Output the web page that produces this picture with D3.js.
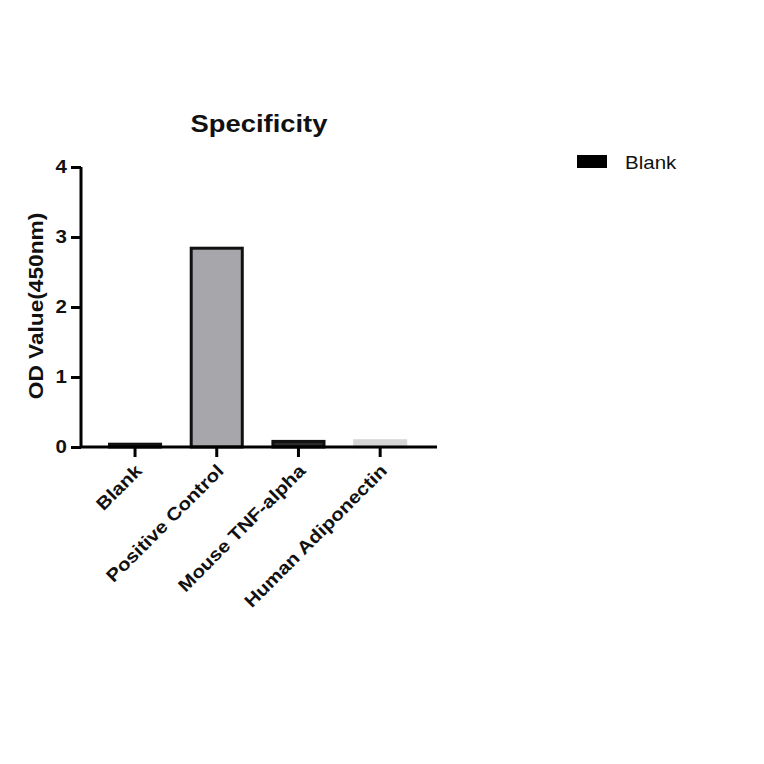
<!DOCTYPE html>
<html>
<head>
<meta charset="utf-8">
<script src="https://cdn.jsdelivr.net/npm/d3@7"></script>
<style>
  body { margin: 0; background: #fff; }
  text { font-family: "Liberation Sans", Arial, sans-serif; }
</style>
</head>
<body>
<div id="chart-area"></div>
<script>
// data
var categories = ["Blank", "Positive Control", "Mouse TNF-alpha", "Human Adiponectin"];
var odValues = [0.04, 2.84, 0.08, 0.09];
var barFills = ["#1a1a1a", "#a7a7ab", "#2b2b2b", "#d6d6d6"];
var barStrokes = ["#111", "#111", "#111", "#d6d6d6"];
var yTicks = [0, 1, 2, 3, 4];
var legendLabels = ["Blank"];

// the original picture is a bit wide, text gets stretched a little
var stretch = 1.14;

var margin = { left: 81, top: 167 };
var width = 356, height = 280;

var svg = d3.select("#chart-area")
  .append("svg")
    .attr("width", 764)
    .attr("height", 764);

var g = svg.append("g")
  .attr("transform", "translate(" + margin.left + "," + margin.top + ")");

// scales
var x = d3.scaleBand()
  .domain(categories)
  .range([28.5, 324.7])
  .paddingInner(0.375)
  .paddingOuter(0);

var y = d3.scaleLinear()
  .domain([0, 4])
  .range([height, 0]);

// bars
g.selectAll("rect.bar")
  .data(categories)
  .enter()
  .append("rect")
    .attr("class", "bar")
    .attr("x", function(d) { return x(d); })
    .attr("y", function(d, i) { return y(odValues[i]); })
    .attr("width", x.bandwidth())
    .attr("height", function(d, i) { return y(0) - y(odValues[i]); })
    .attr("fill", function(d, i) { return barFills[i]; })
    .attr("stroke", function(d, i) { return barStrokes[i]; })
    .attr("stroke-width", 3);

// Y axis
var yAxis = g.append("g")
  .call(d3.axisLeft(y).tickValues(yTicks).tickSize(10).tickPadding(4).tickFormat(d3.format("d")));
yAxis.select(".domain").attr("stroke-width", 3).attr("d", "M0," + height + "V0");
yAxis.selectAll(".tick line").attr("stroke-width", 3);
yAxis.selectAll("text")
  .attr("font-size", "18px")
  .attr("font-weight", "bold")
  .attr("fill", "#111")
  .attr("x", 0)
  .attr("transform", "translate(-14,0) scale(" + stretch + ",1)");

// X axis
var xAxis = g.append("g")
  .attr("transform", "translate(0," + height + ")")
  .call(d3.axisBottom(x).tickSize(10).tickSizeOuter(0));
xAxis.select(".domain").attr("stroke-width", 3).attr("d", "M0,0H" + width);
xAxis.selectAll(".tick line").attr("stroke-width", 3);
xAxis.selectAll("text")
  .attr("font-size", "18px")
  .attr("font-weight", "bold")
  .attr("fill", "#111")
  .attr("text-anchor", "end")
  .attr("y", 0)
  .attr("dy", "0")
  .attr("transform", "translate(8,25) rotate(-45) scale(" + stretch + ",1)");

// title
svg.append("text")
  .attr("transform", "translate(259,132) scale(" + stretch + ",1)")
  .attr("text-anchor", "middle")
  .attr("font-size", "24px")
  .attr("font-weight", "bold")
  .attr("fill", "#111")
  .text("Specificity");

// Y label
svg.append("text")
  .attr("transform", "translate(43," + (margin.top + height / 2 - 1) + ") rotate(-90) scale(1.08,1)")
  .attr("text-anchor", "middle")
  .attr("font-size", "21px")
  .attr("font-weight", "bold")
  .attr("fill", "#111")
  .text("OD Value(450nm)");

// legend
var legend = svg.selectAll("g.legend")
  .data(legendLabels)
  .enter()
  .append("g")
    .attr("class", "legend")
    .attr("transform", function(d, i) { return "translate(577," + (155 + i * 24) + ")"; });
legend.append("rect")
  .attr("width", 30)
  .attr("height", 13)
  .attr("fill", "#000");
legend.append("text")
  .attr("transform", "translate(48,14) scale(" + stretch + ",1)")
  .attr("font-size", "18px")
  .attr("fill", "#111")
  .text(function(d) { return d; });
</script>
</body>
</html>
